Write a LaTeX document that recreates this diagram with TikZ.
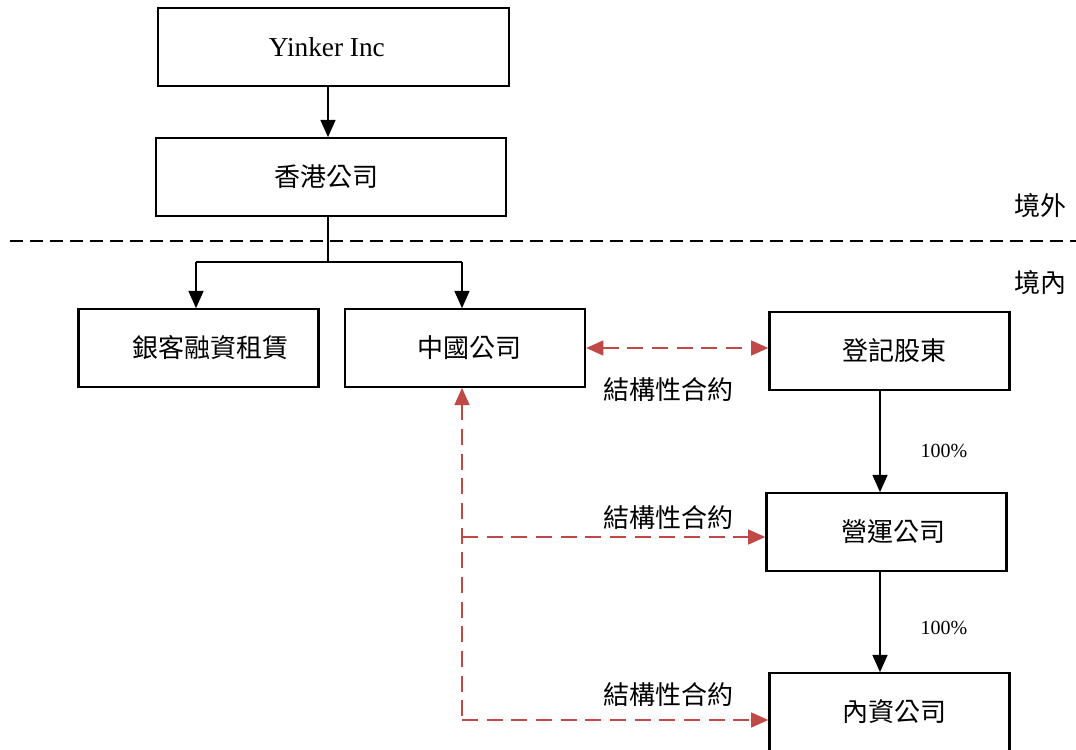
\documentclass[tikz,border=0pt]{standalone}
\usepackage{fontspec}
\setmainfont{Liberation Serif}
\newfontfamily\cjk{Noto Sans CJK TC}
\usetikzlibrary{arrows.meta}
\definecolor{cred}{RGB}{192,72,70}
\begin{document}
\begin{tikzpicture}[x=0.75pt,y=-0.75pt,
  box/.style={draw=black,line width=1.6pt,minimum width=180pt,minimum height=58pt,inner sep=0pt,font=\cjk\fontsize{19.5}{21}\selectfont},
  blk/.style={line width=1.9pt,-{Triangle[length=13pt,width=11pt]}},
  reddash/.style={draw=cred,line width=2pt,dash pattern=on 12pt off 6.5pt},
  redtip/.style={-{Triangle[length=13pt,width=11pt,color=cred]}},
  lbl/.style={font=\cjk\fontsize{19.5}{21}\selectfont,inner sep=0pt},
  pct/.style={font=\fontsize{15}{17}\selectfont,inner sep=0pt}]
\useasboundingbox (0,0) rectangle (1076,750);
\node[box,minimum width=263pt,font=\fontsize{20.5}{22}\selectfont] (yinker) at (333.5,47) {Yinker Inc\hspace*{10pt}};
\node[box,minimum width=263pt] (hk) at (331,177) {香港公司\hspace*{7pt}};
\node[box] (yk) at (198.5,348) {\hspace*{18pt}銀客融資租賃};
\node[box] (cn) at (465,348) {\hspace*{6pt}中國公司};
\node[box] (reg) at (889.5,351) {\hspace*{7.5pt}登記股東};
\node[box] (op) at (886.5,532) {\hspace*{11pt}營運公司};
\node[box] (dom) at (889.5,712) {\hspace*{7pt}內資公司};
\coordinate (dl) at (10,241);
\coordinate (dr) at (1076,241);
\draw[line width=1.5pt,dash pattern=on 10pt off 5pt] (dl) -- (dr);
\node[lbl] (out) at (1040,206) {境外};
\node[lbl] (in) at (1040,283) {境內};
\draw[blk] (yinker.south -| 328,0) -- (hk.north -| 328,0);
\coordinate (br) at (328,262);
\coordinate (bl) at (196,262);
\coordinate (bc) at (462,262);
\draw[line width=1.5pt] (hk.south -| br) -- (br);
\draw[line width=1.9pt] (bl) -- (bc);
\draw[blk] (bl) -- (yk.north -| bl);
\draw[blk] (bc) -- (cn.north -| bc);
% red dashed contracts
\draw[reddash,{Triangle[length=13pt,width=11pt,color=cred]}-{Triangle[length=13pt,width=11pt,color=cred]}] (cn.east) -- (reg.west |- cn.east);
\node[lbl] (l1) at (668,390) {結構性合約};
\coordinate (v1) at (462,537);
\coordinate (v2) at (462,720);
\draw[reddash,{Triangle[length=13pt,width=11pt,color=cred]}-] (cn.south -| v1) -- (v1) -- (v2);
\draw[reddash,redtip] (v1) -- (op.west |- v1);
\draw[reddash,redtip] (v2) -- (dom.west |- v2);
\node[lbl] (l2) at (668,518) {結構性合約};
\node[lbl] (l3) at (668,695) {結構性合約};
% ownership
\draw[blk] (reg.south -| 880,0) -- (op.north -| 880,0);
\draw[blk] (op.south -| 880,0) -- (dom.north -| 880,0);
\node[pct] (p1) at (944,451) {100\%};
\node[pct] (p2) at (944,628) {100\%};
\end{tikzpicture}
\end{document}
